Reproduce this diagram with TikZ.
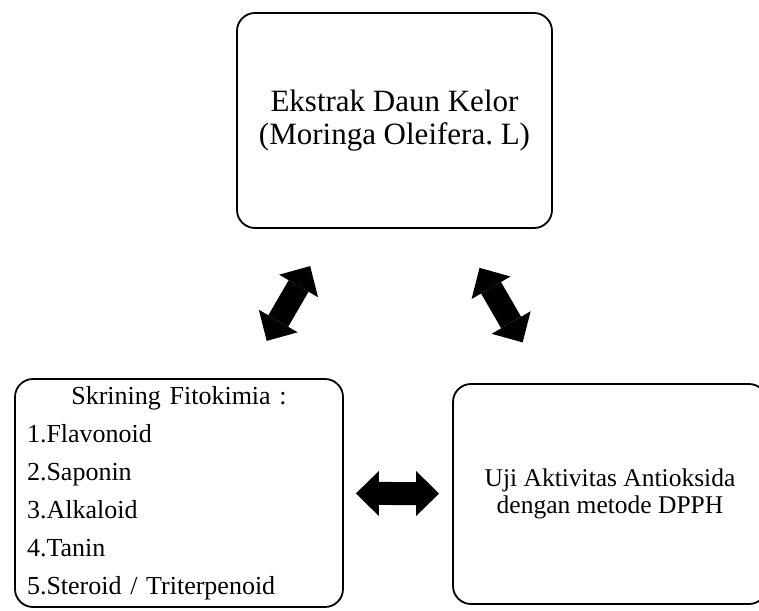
\documentclass[tikz,border=0pt]{standalone}
\usepackage{fontspec}
\setmainfont{Liberation Serif}
\usetikzlibrary{arrows.meta}
\frenchspacing
\begin{document}
\begin{tikzpicture}[x=1pt,y=-1pt]
		\tikzstyle{box}=[draw=black,line width=1.8pt,rounded corners=18pt,align=center]
		\tikzstyle{blockarrow}=[draw=black,line width=23pt,{Triangle[length=23pt,width=45pt,line width=0pt]}-{Triangle[length=23pt,width=45pt,line width=0pt]}]
		\useasboundingbox (0,0) rectangle (759,610);
		\begin{scope}
			\node [box,minimum width=315pt,minimum height=215pt,font=\fontsize{31}{33}\selectfont] (ekstrak) at (394.5,120.5) {Ekstrak Daun Kelor\\(Moringa Oleifera. L)};
			\node [box,minimum width=328pt,minimum height=228pt,inner xsep=12pt,text width=304pt,align=left,font=\fontsize{26}{38}\selectfont] (skrining) at (179,493) {\makebox[304pt]{Skrining Fitokimia :}\\1.Flavonoid\\2.Saponin\\3.Alkaloid\\4.Tanin\\5.Steroid / Triterpenoid};
			\node [box,minimum width=314pt,minimum height=220pt,font=\fontsize{25.5}{27}\selectfont] (uji) at (610,494) {Uji Aktivitas Antioksida\\dengan metode DPPH};
			\path[blockarrow] (ekstrak) edge [shorten <=43pt,shorten >=43pt] (skrining);
			\path[blockarrow] (ekstrak) edge [shorten <=45pt,shorten >=47pt] (uji);
			\path[blockarrow] (skrining) edge [shorten <=12pt,shorten >=13pt] (uji);
		\end{scope}
\end{tikzpicture}
\end{document}
